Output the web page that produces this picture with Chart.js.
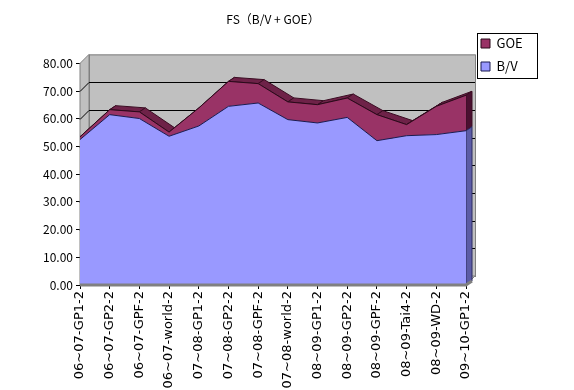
<!DOCTYPE html>
<html><head><meta charset="utf-8">
<script src="https://cdn.jsdelivr.net/npm/chart.js@4/dist/chart.umd.min.js"></script>
<style>html,body{margin:0;padding:0;background:#fff;}#wrap{width:574px;height:390px;}</style>
</head><body><div id="wrap"><canvas id="c" width="574" height="390"></canvas></div>
<script>
const categories = ["06~07-GP1-2","06~07-GP2-2","06~07-GPF-2","06~07-world-2","07~08-GP1-2","07~08-GP2-2","07~08-GPF-2","07~08-world-2","08~09-GP1-2","08~09-GP2-2","08~09-GPF-2","08~09-Tai4-2","08~09-WD-2","09~10-GP1-2"];
const bvValues  = [52.5, 61.5, 60.1, 53.7, 57.4, 64.5, 65.7, 59.7, 58.5, 60.5, 52.1, 53.9, 54.3, 55.7];
const goeValues = [1.0, 1.8, 2.4, 1.5, 6.5, 9.0, 7.0, 6.4, 6.6, 7.0, 9.4, 4.0, 10.2, 12.8];
const yTicks = [0, 10, 20, 30, 40, 50, 60, 70, 80];
const seriesNames = ["B/V", "GOE"];
const chartTitle = "FS（B/V + GOE）";

const FONT = "'Noto Sans CJK JP', 'Noto Sans', sans-serif";
const XFONT = "'DejaVu Sans', sans-serif";
const DX = 9, DY = -9;   // back wall depth
const SX = 6, SY = -4;   // series depth

const depthPlugin = {
  id: 'depth3d',
  afterLayout(chart) {
    const lg = chart.legend;
    if (lg) { lg.left = 471; lg.top = 27; lg.right = lg.left + lg.width; lg.bottom = lg.top + lg.height; }
  },
  beforeDatasetsDraw(chart) {
    const {ctx, chartArea: a, scales: {x, y}} = chart;
    const x0 = a.left, x1 = a.right;
    const yt = y.getPixelForValue(yTicks[yTicks.length - 1]), yb = y.getPixelForValue(0);
    ctx.save();
    ctx.fillStyle = '#c0c0c0';
    ctx.strokeStyle = '#808080';
    ctx.lineWidth = 1;
    ctx.fillRect(x0 + DX, yt + DY, x1 - x0, yb - yt);
    ctx.strokeRect(x0 + DX + 0.5, yt + DY + 0.5, x1 - x0, yb - yt);
    ctx.beginPath(); ctx.moveTo(x0, yt); ctx.lineTo(x0 + DX, yt + DY); ctx.lineTo(x0 + DX, yb + DY); ctx.lineTo(x0, yb); ctx.closePath();
    ctx.fill(); ctx.stroke();
    ctx.beginPath(); ctx.moveTo(x0, yb); ctx.lineTo(x1, yb); ctx.lineTo(x1 + DX, yb + DY); ctx.lineTo(x0 + DX, yb + DY); ctx.closePath();
    ctx.fill(); ctx.stroke();
    ctx.strokeStyle = '#000';
    yTicks.slice(1, -1).forEach(v => {
      const py = Math.round(y.getPixelForValue(v)) + 0.5;
      ctx.beginPath(); ctx.moveTo(x0 + DX, py + DY); ctx.lineTo(x1 + DX, py + DY); ctx.stroke();
      ctx.beginPath(); ctx.moveTo(x0, py); ctx.lineTo(x0 + DX, py + DY); ctx.stroke();
    });
    const m0 = chart.getDatasetMeta(0).data, m1 = chart.getDatasetMeta(1).data;
    ctx.fillStyle = '#6e2248';
    ctx.strokeStyle = '#3a0c22';
    for (let i = 0; i < m1.length - 1; i++) {
      const p = m1[i], q = m1[i + 1];
      ctx.beginPath(); ctx.moveTo(p.x, p.y); ctx.lineTo(q.x, q.y); ctx.lineTo(q.x + SX, q.y + SY); ctx.lineTo(p.x + SX, p.y + SY); ctx.closePath();
      ctx.fill(); ctx.stroke();
    }
    const n = m1.length - 1, t = m1[n], b = m0[n];
    ctx.fillStyle = '#4a1030';
    ctx.beginPath(); ctx.moveTo(t.x, t.y); ctx.lineTo(t.x + SX, t.y + SY); ctx.lineTo(b.x + SX, b.y + SY); ctx.lineTo(b.x, b.y); ctx.closePath(); ctx.fill(); ctx.stroke();
    ctx.fillStyle = '#5c5ca6';
    ctx.strokeStyle = '#2a2a60';
    ctx.beginPath(); ctx.moveTo(b.x, b.y); ctx.lineTo(b.x + SX, b.y + SY); ctx.lineTo(b.x + SX, yb + SY); ctx.lineTo(b.x, yb); ctx.closePath(); ctx.fill(); ctx.stroke();
    ctx.restore();
  },
  afterDatasetsDraw(chart) {
    const {ctx, chartArea: a, scales: {y}} = chart;
    const yb = y.getPixelForValue(0);
    ctx.save();
    ctx.strokeStyle = '#808080'; ctx.lineWidth = 3;
    ctx.beginPath(); ctx.moveTo(a.left, yb); ctx.lineTo(a.right, yb); ctx.lineTo(a.right + SX, yb + SY); ctx.stroke();
    ctx.restore();
  },
  afterDraw(chart) {
    const lg = chart.legend, ctx = chart.ctx;
    ctx.save(); ctx.strokeStyle = '#000'; ctx.lineWidth = 1;
    ctx.strokeRect(lg.left + 6.5, lg.top + 6.5, 60, 45);
    ctx.restore();
  }
};

new Chart(document.getElementById('c'), {
  type: 'line',
  data: {
    labels: categories,
    datasets: [
      { label: seriesNames[0], data: bvValues, backgroundColor: '#9999ff', borderColor: '#1a1a50', borderWidth: 1, fill: 'origin', pointRadius: 0, tension: 0 },
      { label: seriesNames[1], data: goeValues, backgroundColor: '#993366', borderColor: '#2a0a1a', borderWidth: 1, fill: '-1', pointRadius: 0, tension: 0 }
    ]
  },
  options: {
    responsive: false, animation: false, devicePixelRatio: 1,
    layout: { padding: { left: 0, right: 108, top: 0, bottom: 0 } },
    plugins: {
      title: { display: true, text: chartTitle, fullSize: false, color: '#000', font: { family: FONT, size: 12, weight: 'normal' }, padding: { top: 12, bottom: 37 } },
      legend: { display: true, position: 'chartArea', align: 'start', reverse: true,
        labels: { boxWidth: 9, boxHeight: 9, padding: 10, color: '#000', font: { family: FONT, size: 13 } } },
      tooltip: { enabled: false }
    },
    scales: {
      x: {
        offset: false,
        grid: { drawOnChartArea: false, drawTicks: true, tickLength: 4, color: '#000' },
        border: { display: false },
        ticks: { minRotation: 90, maxRotation: 90, autoSkip: false, padding: 2, color: '#000', font: { family: XFONT, size: 13 } },
        afterFit(s) { s.height = 105; }
      },
      y: {
        stacked: true, min: 0, max: 80,
        afterBuildTicks(s) { s.ticks = yTicks.map(v => ({ value: v })); },
        grid: { drawOnChartArea: false, drawTicks: true, tickLength: 4, color: '#000' },
        border: { display: true, color: '#000' },
        ticks: { padding: 3, color: '#000', font: { family: FONT, size: 12 }, callback: v => Number(v).toFixed(2) },
        afterFit(s) { s.width = 80; }
      }
    }
  },
  plugins: [depthPlugin]
});
</script></body></html>
